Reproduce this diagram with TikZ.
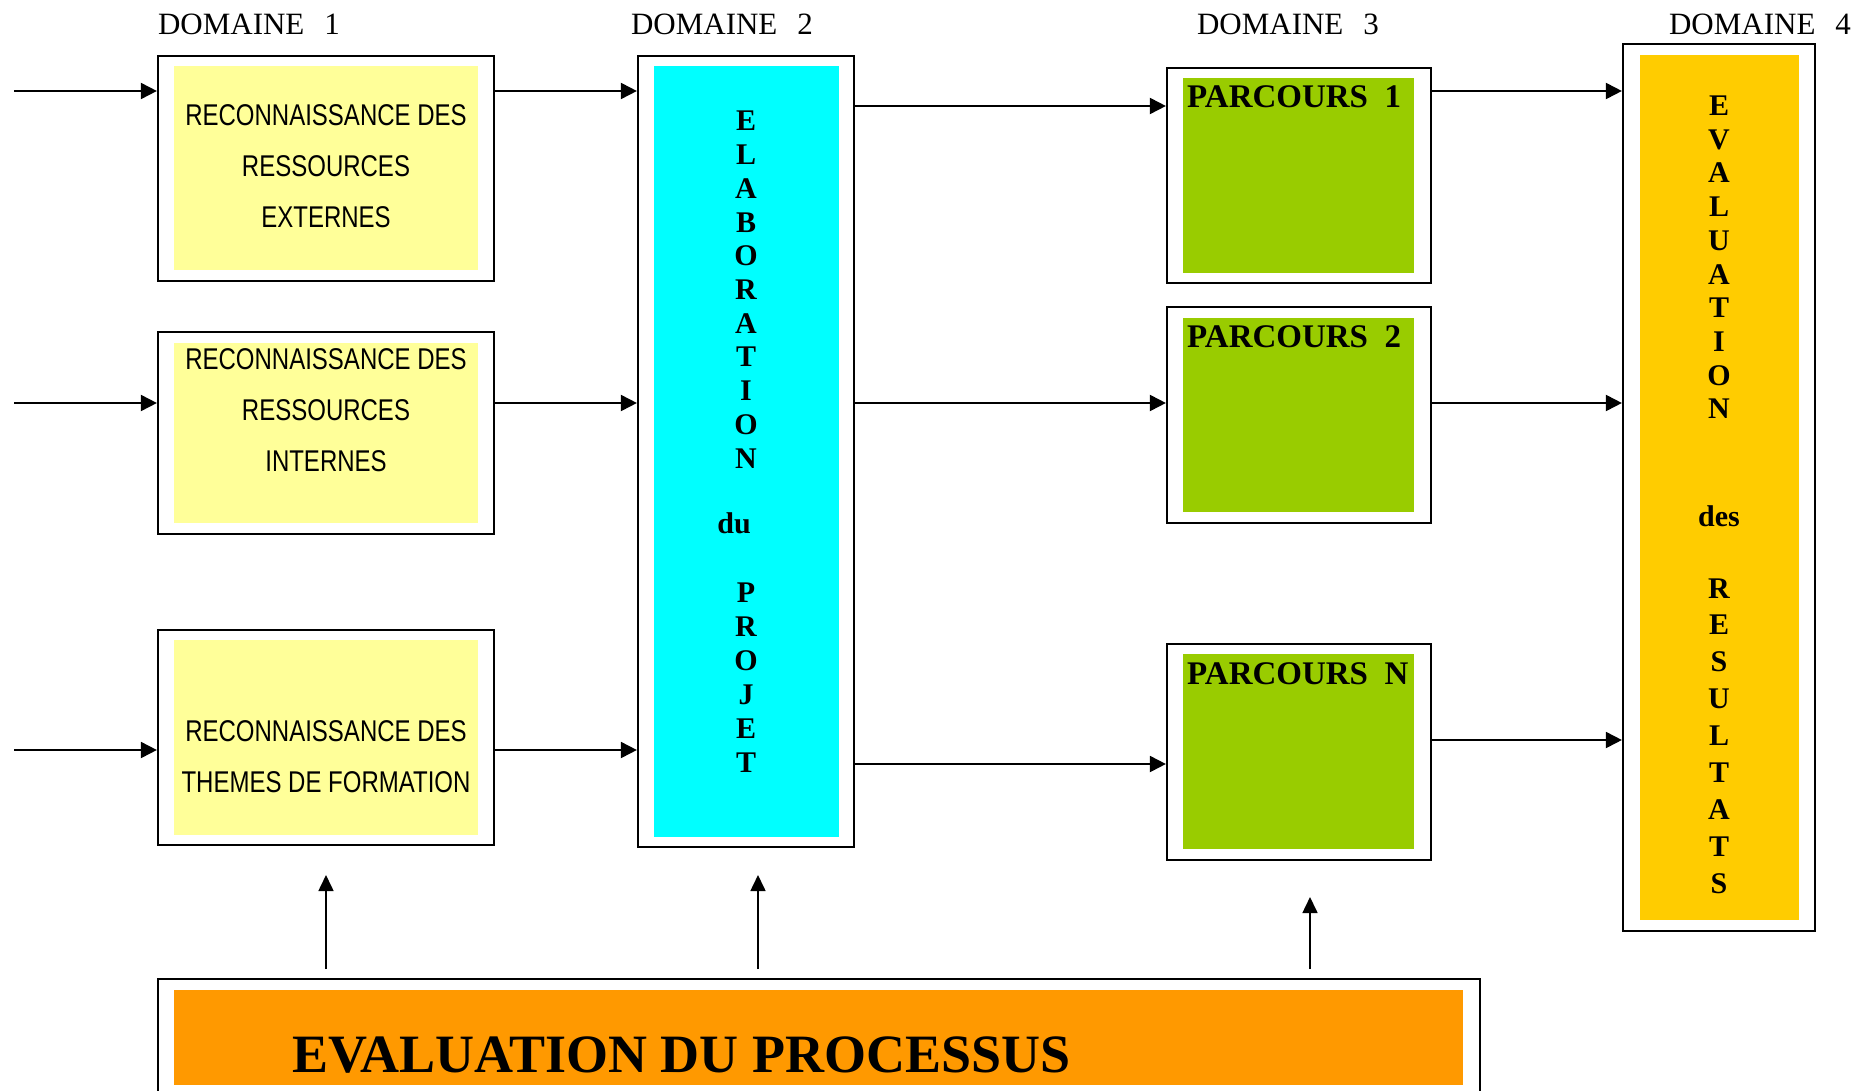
\documentclass[tikz,border=0pt]{standalone}
\usepackage{fontspec}
\setmainfont{Liberation Serif}
\newfontfamily\narrowsans[FakeStretch=0.8]{Liberation Sans}
\usetikzlibrary{arrows.meta}
\definecolor{yellowbox}{HTML}{FFFF99}
\definecolor{cyanbox}{HTML}{00FFFF}
\definecolor{greenbox}{HTML}{99CC00}
\definecolor{goldbox}{HTML}{FFCC00}
\definecolor{orangebox}{HTML}{FF9900}
\tikzset{
  outerbox/.style={draw=black, line width=2.2pt, fill=white, inner sep=0pt},
  innerbox/.style={inner sep=0pt, draw=none},
  domlabel/.style={font=\fontsize{31}{31}\selectfont, inner sep=0pt},
  boxtext/.style={font=\narrowsans\fontsize{30}{51}\selectfont, align=center, inner sep=0pt},
  vletter/.style={font=\fontsize{30}{30}\selectfont\bfseries, inner sep=0pt, text height=20pt, text depth=0pt},
  parctext/.style={font=\fontsize{33}{33}\selectfont\bfseries, inner sep=0pt, anchor=west},
  arr/.style={line width=1.9pt, -{Triangle[length=16pt, width=16pt]}},
  uparr/.style={line width=1.6pt, -{Triangle[length=16pt, width=15pt]}}
}
\begin{document}
\begin{tikzpicture}[x=1pt, y=-1pt]
\useasboundingbox (0,0) rectangle (1859,1091);
\clip (0,0) rectangle (1859,1091);

% domain labels
\node[domlabel] (d1) at (249,24) {DOMAINE\hspace{20pt}1};
\node[domlabel] (d2) at (722,24) {DOMAINE\hspace{20pt}2};
\node[domlabel] (d3) at (1288,24) {DOMAINE\hspace{20pt}3};
\node[domlabel] (d4) at (1760,24) {DOMAINE\hspace{20pt}4};

% domain 1 boxes
\node[outerbox, minimum width=336pt, minimum height=225pt] (b1) at (326,168.5) {};
\node[innerbox, fill=yellowbox, minimum width=304pt, minimum height=204pt] (b1i) at (326,168) {};
\node[boxtext] (b1t) at (326,166) {RECONNAISSANCE DES\\RESSOURCES\\EXTERNES};

\node[outerbox, minimum width=336pt, minimum height=202pt] (b2) at (326,433) {};
\node[innerbox, fill=yellowbox, minimum width=304pt, minimum height=180pt] (b2i) at (326,433) {};
\node[boxtext] (b2t) at (326,410) {RECONNAISSANCE DES\\RESSOURCES\\INTERNES};

\node[outerbox, minimum width=336pt, minimum height=215pt] (b3) at (326,737.5) {};
\node[innerbox, fill=yellowbox, minimum width=304pt, minimum height=195pt] (b3i) at (326,737.5) {};
\node[boxtext] (b3t) at (326,757) {RECONNAISSANCE DES\\THEMES DE FORMATION};

% domain 2
\node[outerbox, minimum width=216pt, minimum height=791pt] (elab) at (746,451.5) {};
\node[innerbox, fill=cyanbox, minimum width=185pt, minimum height=771pt] (elabi) at (746.5,451.5) {};
\foreach \l [count=\i from 0] in {E,L,A,B,O,R,A,T,I,O,N}
  \node[vletter] (ela\i) at (746,{121+33.7*\i}) {\l};
\node[vletter] (eldu) at (734,523) {du};
\foreach \l [count=\i from 0] in {P,R,O,J,E,T}
  \node[vletter] (elp\i) at (746,{592+34*\i}) {\l};

% domain 3
\node[outerbox, minimum width=264pt, minimum height=215pt] (p1) at (1299,175.5) {};
\node[innerbox, fill=greenbox, minimum width=231pt, minimum height=195pt] (p1i) at (1298.5,175.5) {};
\node[parctext] (p1t) at (1187,97) {PARCOURS~~1};

\node[outerbox, minimum width=264pt, minimum height=216pt] (p2) at (1299,415) {};
\node[innerbox, fill=greenbox, minimum width=231pt, minimum height=194pt] (p2i) at (1298.5,415) {};
\node[parctext] (p2t) at (1187,337) {PARCOURS~~2};

\node[outerbox, minimum width=264pt, minimum height=216pt] (pn) at (1299,752) {};
\node[innerbox, fill=greenbox, minimum width=231pt, minimum height=195pt] (pni) at (1298.5,751.5) {};
\node[parctext] (pnt) at (1187,674) {PARCOURS~~N};

% domain 4
\node[outerbox, minimum width=192pt, minimum height=887pt] (evr) at (1719,487.5) {};
\node[innerbox, fill=goldbox, minimum width=159pt, minimum height=865pt] (evri) at (1719.5,487.5) {};
\foreach \l [count=\i from 0] in {E,V,A,L,U,A,T,I,O,N}
  \node[vletter] (eva\i) at (1719,{105.5+33.7*\i}) {\l};
\node[vletter] (evdes) at (1719,516) {des};
\foreach \l [count=\i from 0] in {R,E,S,U,L,T,A,T,S}
  \node[vletter] (evr\i) at (1719,{588+36.9*\i}) {\l};

% bottom process evaluation
\node[outerbox, minimum width=1322pt, minimum height=162pt] (evp) at (819,1060) {};
\node[innerbox, fill=orangebox, minimum width=1289pt, minimum height=95pt] (evpi) at (818.5,1037.5) {};
\node[font=\fontsize{54}{54}\selectfont\bfseries, inner sep=0pt, anchor=west] (evpt) at (292,1055) {EVALUATION DU PROCESSUS};

% row coordinates
\coordinate (in1) at (14,91);
\coordinate (in2) at (14,403);
\coordinate (in3) at (14,750);
\coordinate (e1) at (0,106);
\coordinate (e2) at (0,403);
\coordinate (e3) at (0,764);
\coordinate (r1) at (0,91);
\coordinate (r2) at (0,403);
\coordinate (r3) at (0,740);

% arrows into domain 1
\draw[arr] (in1) -- (b1.west |- in1);
\draw[arr] (in2) -- (b2.west |- in2);
\draw[arr] (in3) -- (b3.west |- in3);
% domain 1 -> domain 2
\draw[arr] (b1.east |- in1) -- (elab.west |- in1);
\draw[arr] (b2.east |- in2) -- (elab.west |- in2);
\draw[arr] (b3.east |- in3) -- (elab.west |- in3);
% domain 2 -> domain 3
\draw[arr] (elab.east |- e1) -- (p1.west |- e1);
\draw[arr] (elab.east |- e2) -- (p2.west |- e2);
\draw[arr] (elab.east |- e3) -- (pn.west |- e3);
% domain 3 -> domain 4
\draw[arr] (p1.east |- r1) -- (evr.west |- r1);
\draw[arr] (p2.east |- r2) -- (evr.west |- r2);
\draw[arr] (pn.east |- r3) -- (evr.west |- r3);

% upward arrows from process evaluation
\coordinate (u1s) at (326,969);
\coordinate (u1e) at (326,875);
\coordinate (u2s) at (758,969);
\coordinate (u2e) at (758,875);
\coordinate (u3s) at (1310,969);
\coordinate (u3e) at (1310,897);
\draw[uparr] (u1s) -- (u1e);
\draw[uparr] (u2s) -- (u2e);
\draw[uparr] (u3s) -- (u3e);
\end{tikzpicture}
\end{document}
